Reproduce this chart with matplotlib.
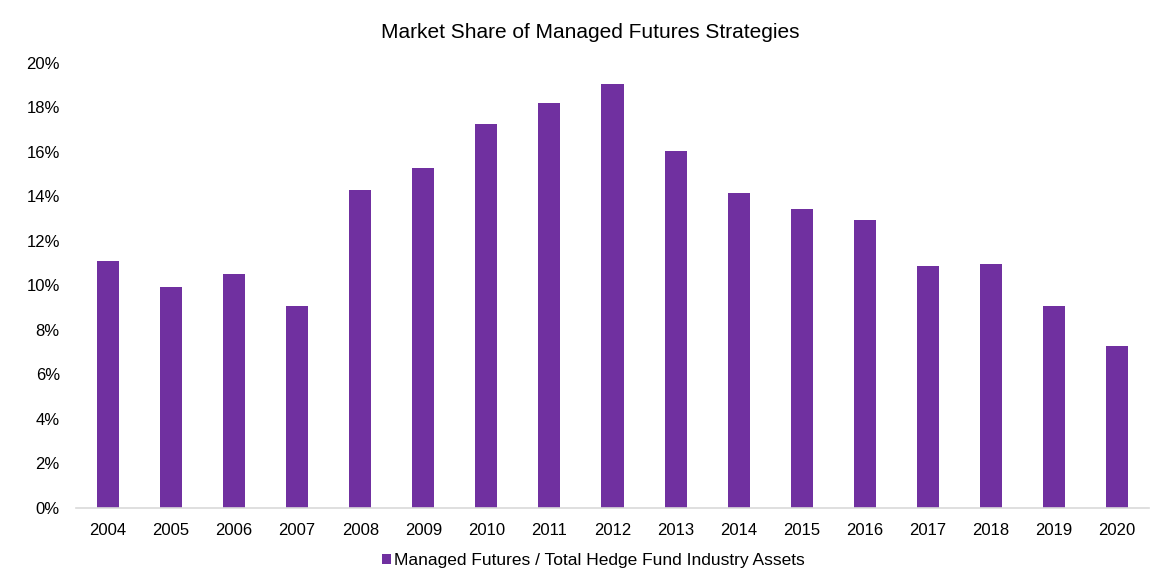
import numpy as np
import matplotlib.pyplot as plt
from matplotlib.ticker import MultipleLocator, FuncFormatter

plt.rcParams['font.family'] = ['Liberation Sans', 'DejaVu Sans']

years = ['2004', '2005', '2006', '2007', '2008', '2009', '2010', '2011', '2012',
         '2013', '2014', '2015', '2016', '2017', '2018', '2019', '2020']
share = [11.09, 9.92, 10.51, 9.07, 14.28, 15.27, 17.24, 18.19, 19.04,
         16.03, 14.14, 13.41, 12.92, 10.87, 10.97, 9.07, 7.29]

fig = plt.figure(figsize=(11.71, 5.82), dpi=100)
ax = fig.add_axes([0.0653, 0.1271, 0.9155, 0.7652])

x = np.arange(len(years))
ax.bar(x, share, width=0.35, color='#7030A0',
       label='Managed Futures / Total Hedge Fund Industry Assets')

ax.set_xlim(-0.5, len(years) - 0.5)
ax.set_ylim(0, 20)
ax.yaxis.set_major_locator(MultipleLocator(2))
ax.yaxis.set_major_formatter(FuncFormatter(lambda v, p: f'{v:.0f}%'))
ax.set_xticks(x)
ax.set_xticklabels(years)
ax.tick_params(axis='both', length=0, labelsize=12, colors='#000000')
ax.tick_params(axis='x', pad=11)
ax.tick_params(axis='y', pad=12)

for s in ['top', 'right', 'left']:
    ax.spines[s].set_visible(False)
ax.spines['bottom'].set_color('#d9d9d9')
ax.spines['bottom'].set_linewidth(1.2)

# titel over de hele figuur gecentreerd
fig.text(0.504, 0.945, 'Market Share of Managed Futures Strategies',
         fontsize=15, ha='center', va='center')

fig.legend(loc='center', bbox_to_anchor=(0.507, 0.037), frameon=False,
           fontsize=12.5, handlelength=0.5, handleheight=0.5, handletextpad=0.2)

plt.savefig('out.png', dpi=100)
